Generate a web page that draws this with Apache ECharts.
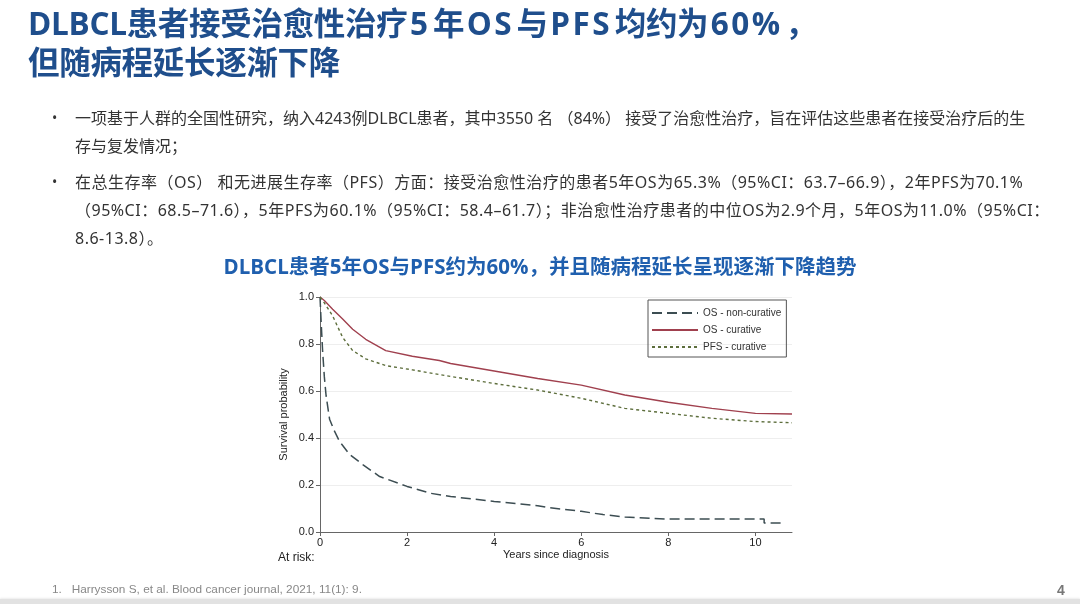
<!DOCTYPE html>
<html>
<head>
<meta charset="utf-8">
<script src="https://cdn.jsdelivr.net/npm/echarts@6/dist/echarts.min.js"></script>
<style>
  html, body { margin:0; padding:0; background:#fff; }
  body { width:1080px; height:604px; position:relative; overflow:hidden; font-family:"Noto Sans","Noto Sans CJK SC",sans-serif; }
  .title { position:absolute; left:28px; top:3px; color:#1f4e8c; font-weight:bold; font-size:31.5px; line-height:39px; white-space:nowrap; font-family:"Open Sans","Noto Sans CJK SC",sans-serif; letter-spacing:-0.3px; }
  .title .l { letter-spacing:2.5px; margin:0 2.5px; }
  .bullets { position:absolute; left:0; top:104px; color:#333; font-size:16px; line-height:28px; white-space:nowrap; }
  .b { position:absolute; left:52px; font-size:14px; }
  .t { position:absolute; left:75px; }
  .t.w { letter-spacing:0.5px; }
  .foot { position:absolute; left:52px; top:582px; font-size:11.8px; color:#888; font-family:"Liberation Sans Narrow","Liberation Sans",sans-serif; }
  .page { position:absolute; left:1057px; top:582px; font-size:14px; font-weight:bold; color:#777; font-family:"Liberation Sans",sans-serif; }
  .band { position:absolute; left:0; top:599px; width:1080px; height:5px; background:#e2e2e2; box-shadow:0 -1px 2px rgba(0,0,0,0.08); }
  #chart { position:absolute; left:0; top:0; width:1080px; height:604px; }
</style>
</head>
<body>
<div id="chart"></div>
<div class="title">DLBCL患者接受治愈性治疗<span class="l">5</span>年<span class="l">OS</span>与<span class="l">PFS</span>均约为<span class="l">60%</span>，<br>但随病程延长逐渐下降</div>
<div class="bullets">
  <div class="b" style="top:0px">•</div>
  <div class="t" style="top:0px">一项基于人群的全国性研究，纳入4243例DLBCL患者，其中3550 名 （84%） 接受了治愈性治疗，旨在评估这些患者在接受治疗后的生</div>
  <div class="t" style="top:28px">存与复发情况；</div>
  <div class="b" style="top:64px">•</div>
  <div class="t w" style="top:64px">在总生存率（OS） 和无进展生存率（PFS）方面：接受治愈性治疗的患者5年OS为65.3%（95%CI：63.7–66.9），2年PFS为70.1%</div>
  <div class="t w" style="top:92px">（95%CI：68.5–71.6），5年PFS为60.1%（95%CI：58.4–61.7）；非治愈性治疗患者的中位OS为2.9个月，5年OS为11.0%（95%CI：</div>
  <div class="t w" style="top:120px">8.6-13.8）。</div>
</div>
<div class="foot">1.&nbsp;&nbsp;&nbsp;Harrysson S, et al. Blood cancer journal, 2021, 11(1): 9.</div>
<div class="page">4</div>
<div class="band"></div>
<script>
// ---- data ----
const seriesNames = ['OS - non-curative', 'OS - curative', 'PFS - curative'];
const xTicks = [0, 2, 4, 6, 8, 10];
const yTicks = [0, 0.2, 0.4, 0.6, 0.8, 1.0];

const osNonCurT = [0, 0.03, 0.06, 0.1, 0.14, 0.22, 0.33, 0.45, 0.68, 0.99, 1.37, 2, 2.53, 3, 4, 5, 5.2, 6, 6.5, 7, 8, 9, 10.2, 10.2, 10.6];
const osNonCurV = [1, 0.88, 0.77, 0.66, 0.58, 0.48, 0.43, 0.385, 0.33, 0.286, 0.236, 0.194, 0.165, 0.151, 0.13, 0.112, 0.105, 0.088, 0.074, 0.064, 0.055, 0.055, 0.055, 0.038, 0.038];

const osCurT = [0, 0.1, 0.29, 0.52, 0.75, 1.05, 1.51, 2.12, 2.74, 3, 4, 5, 6, 7, 8, 9, 10, 10.84];
const osCurV = [1, 0.985, 0.948, 0.906, 0.863, 0.82, 0.772, 0.748, 0.73, 0.717, 0.685, 0.653, 0.625, 0.583, 0.552, 0.526, 0.505, 0.502];

const pfsCurT = [0, 0.1, 0.29, 0.52, 0.75, 1.05, 1.51, 2.12, 2.74, 3, 4, 5, 6, 7, 8, 9, 10, 10.84];
const pfsCurV = [1, 0.975, 0.92, 0.828, 0.772, 0.737, 0.708, 0.69, 0.67, 0.662, 0.632, 0.604, 0.569, 0.526, 0.505, 0.484, 0.47, 0.465];

const xMax = 10.84;

function pairs(t, v) { return t.map((x, i) => [x, v[i]]); }

const chart = echarts.init(document.getElementById('chart'));
const axisFont = 'Liberation Sans, Arial, sans-serif';
chart.setOption({
  animation: false,
  title: {
    text: 'DLBCL患者5年OS与PFS约为60%，并且随病程延长呈现逐渐下降趋势',
    left: 'center', top: 253,
    textStyle: { color: '#1f5fae', fontSize: 20.5, fontWeight: 'bold', fontFamily: 'Open Sans, Noto Sans CJK SC' }
  },
  grid: { left: 320, right: 288, top: 297, bottom: 72 },
  legend: {
    orient: 'vertical', left: 648, top: 300,
    itemWidth: 46, itemHeight: 8, itemGap: 7,
    padding: [8, 5, 5, 3],
    borderColor: '#555', borderWidth: 1,
    itemStyle: { opacity: 0 },
    textStyle: { fontSize: 10, color: '#333', fontFamily: axisFont },
    data: seriesNames
  },
  xAxis: {
    type: 'value', min: 0, max: xMax,
    name: 'Years since diagnosis', nameLocation: 'middle', nameGap: 17,
    nameTextStyle: { fontSize: 11, color: '#222', fontFamily: axisFont },
    axisLine: { show: true, lineStyle: { color: '#666', width: 1 } },
    axisTick: { show: true, length: 4, customValues: xTicks, lineStyle: { color: '#666' } },
    axisLabel: { customValues: xTicks, margin: 5, fontSize: 11, color: '#222', fontFamily: axisFont },
    splitLine: { show: false }
  },
  yAxis: {
    type: 'value', min: 0, max: 1, interval: 0.2,
    name: 'Survival probability', nameLocation: 'middle', nameGap: 31,
    nameTextStyle: { fontSize: 11, color: '#222', fontFamily: axisFont },
    axisLine: { show: true, lineStyle: { color: '#666', width: 1 } },
    axisTick: { show: true, length: 4, lineStyle: { color: '#666' } },
    axisLabel: { margin: 6, fontSize: 11, color: '#222', fontFamily: axisFont, formatter: v => v.toFixed(1) },
    splitLine: { show: true, lineStyle: { color: '#eeeeee', width: 1 } }
  },
  graphic: [{
    type: 'text', left: 278, top: 552,
    style: { text: 'At risk:', fontSize: 12, fill: '#222', fontFamily: axisFont }
  }],
  series: [
    { name: seriesNames[0], type: 'line', symbol: 'none', data: pairs(osNonCurT, osNonCurV),
      lineStyle: { color: '#3c4d52', width: 1.5, type: [10, 5] }, itemStyle: { color: '#3c4d52' } },
    { name: seriesNames[1], type: 'line', symbol: 'none', data: pairs(osCurT, osCurV),
      lineStyle: { color: '#a0404e', width: 1.4, type: 'solid' }, itemStyle: { color: '#a0404e' } },
    { name: seriesNames[2], type: 'line', symbol: 'none', data: pairs(pfsCurT, pfsCurV),
      lineStyle: { color: '#5d6e3c', width: 1.4, type: [3, 3] }, itemStyle: { color: '#5d6e3c' } }
  ]
});
</script>
</body>
</html>
